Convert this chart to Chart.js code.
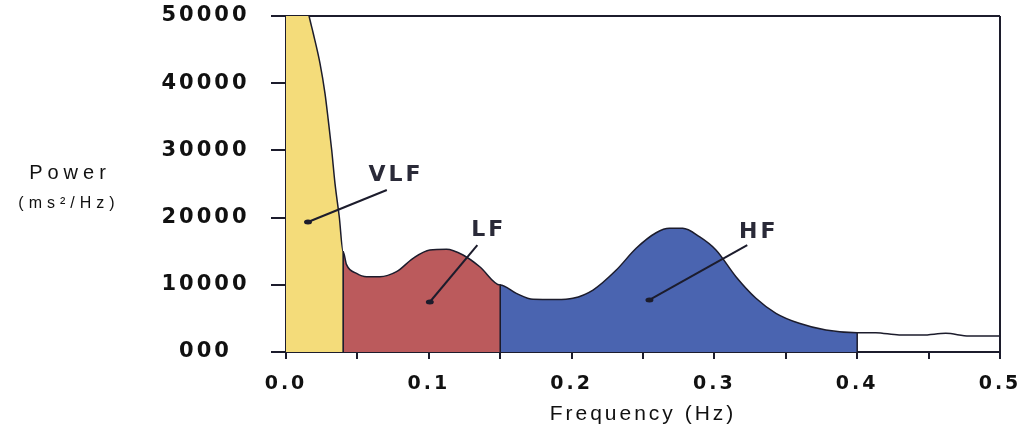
<!DOCTYPE html>
<html>
<head>
<meta charset="utf-8">
<script src="https://cdn.jsdelivr.net/npm/chart.js@4.4.1/dist/chart.umd.min.js"></script>
<style>
  body { margin: 0; background: #fff; }
  #wrap { width: 1024px; height: 435px; }
</style>
</head>
<body>
<div id="wrap"><canvas id="hrvChart"></canvas></div>
<script>
// Power spectrum, one pair of arrays per band (Hz, ms²/Hz)
const vlfFreq = [0, 0.008, 0.0168, 0.0191, 0.0238, 0.0273, 0.0296, 0.032, 0.0343, 0.0373, 0.04];
const vlfPower = [67000, 58000, 49400, 47400, 42960, 38500, 34500, 30060, 25100, 20130, 14900];

const lfFreq = [0.04, 0.0424, 0.0494, 0.0564, 0.0657, 0.0774, 0.089, 0.1007, 0.1124, 0.124, 0.1357, 0.15];
const lfPower = [14900, 13000, 11700, 11200, 11200, 11950, 13940, 15180, 15280, 14430, 12690, 9970];

const hfFreq = [0.15, 0.1613, 0.173, 0.1893, 0.2009, 0.215, 0.2313, 0.2452, 0.2592, 0.2685, 0.2778, 0.2895, 0.3011, 0.3151, 0.3291, 0.3431, 0.3594, 0.3781, 0.4];
const hfPower = [9970, 8730, 7840, 7800, 7990, 9225, 12200, 15430, 17750, 18400, 18400, 17160, 15180, 11200, 7990, 5760, 4270, 3270, 2870];

const tailFreq = [0.4, 0.413, 0.4294, 0.4457, 0.462, 0.4783, 0.5];
const tailPower = [2870, 2870, 2530, 2530, 2780, 2380, 2380];

const xTickLabels = ["0.0", "0.1", "0.2", "0.3", "0.4", "0.5"];
const yTickLabels = ["000", "10000", "20000", "30000", "40000", "50000"];

// band labels with their pointer lines, in data units
const bandNotes = [
  { text: "VLF", x: 0.076, y: 26300, from: [0.0706, 24100], to: [0.0154, 19350] },
  { text: "LF", x: 0.141, y: 18150, from: [0.134, 15920], to: [0.1007, 7440] },
  { text: "HF", x: 0.33, y: 17860, from: [0.323, 15920], to: [0.2545, 7740] },
];

const outline = "#1c1c2c";

function toPoints(xs, ys) {
  return xs.map((x, i) => ({ x, y: ys[i] }));
}

// close a band down to the axis so its side edges get drawn too
function bandPoints(xs, ys) {
  const pts = toPoints(xs, ys);
  if (xs[0] > 0) pts.unshift({ x: xs[0], y: 0 });
  pts.push({ x: xs[xs.length - 1], y: 0 });
  return pts;
}

function band(label, xs, ys, color) {
  return {
    label,
    data: bandPoints(xs, ys),
    backgroundColor: color,
    borderColor: outline,
    borderWidth: 1.5,
    fill: "origin",
    pointRadius: 0,
    cubicInterpolationMode: "monotone",
  };
}

const extrasPlugin = {
  id: "extras",
  beforeDraw(chart) {
    chart.ctx.letterSpacing = "3px";
  },
  afterDraw(chart) {
    const { ctx, scales } = chart;
    const sx = scales.x;
    const sy = scales.y;
    ctx.save();

    // pointers and band names
    bandNotes.forEach((n) => {
      const x1 = sx.getPixelForValue(n.from[0]);
      const y1 = sy.getPixelForValue(n.from[1]);
      const x2 = sx.getPixelForValue(n.to[0]);
      const y2 = sy.getPixelForValue(n.to[1]);
      ctx.strokeStyle = outline;
      ctx.lineWidth = 2;
      ctx.beginPath();
      ctx.moveTo(x1, y1);
      ctx.lineTo(x2, y2);
      ctx.stroke();
      ctx.fillStyle = outline;
      ctx.beginPath();
      ctx.ellipse(x2, y2, 4, 2.5, 0, 0, Math.PI * 2);
      ctx.fill();

      ctx.font = "bold 22px 'DejaVu Sans'";
      ctx.fillStyle = "#2a2a38";
      ctx.textAlign = "center";
      ctx.textBaseline = "middle";
      ctx.fillText(n.text, sx.getPixelForValue(n.x) + 1.5, sy.getPixelForValue(n.y));
    });

    // horizontal y axis title
    ctx.fillStyle = "#111";
    ctx.textAlign = "center";
    ctx.textBaseline = "middle";
    ctx.font = "20px 'Liberation Sans'";
    ctx.letterSpacing = "5px";
    ctx.fillText("Power", 70, 173);
    ctx.font = "16px 'Liberation Sans'";
    ctx.letterSpacing = "5px";
    ctx.fillText("(ms²/Hz)", 69, 204);

    ctx.restore();
    ctx.letterSpacing = "0px";
  },
};

const ctx = document.getElementById("hrvChart").getContext("2d");
new Chart(ctx, {
  type: "line",
  data: {
    datasets: [
      band("VLF", vlfFreq, vlfPower, "#f4dc7a"),
      band("LF", lfFreq, lfPower, "#bb5a5c"),
      band("HF", hfFreq, hfPower, "#4a64b0"),
      {
        label: "above HF",
        data: toPoints(tailFreq, tailPower),
        borderColor: outline,
        borderWidth: 1.5,
        fill: false,
        pointRadius: 0,
        cubicInterpolationMode: "monotone",
      },
    ],
  },
  options: {
    responsive: true,
    maintainAspectRatio: false,
    animation: false,
    layout: { padding: { left: 0, right: 24, top: 16, bottom: 0 } },
    plugins: {
      legend: { display: false },
      tooltip: { enabled: false },
    },
    scales: {
      x: {
        type: "linear",
        min: 0,
        max: 0.5,
        z: 1,
        afterFit(scale) {
          scale.height = 83;
          scale.paddingLeft = 0;
          scale.paddingRight = 0;
        },
        ticks: {
          stepSize: 0.05,
          autoSkip: false,
          maxRotation: 0,
          padding: 14,
          color: "#111",
          font: { family: "'DejaVu Sans'", size: 19, weight: "bold" },
          callback: (value, index) => (index % 2 === 0 ? xTickLabels[index / 2] : ""),
        },
        grid: {
          color: (c) => (c.tick && Math.abs(c.tick.value - 0.5) < 1e-6 ? outline : "transparent"),
          tickColor: outline,
          tickLength: 7,
          lineWidth: 2,
        },
        border: { display: true, color: outline, width: 2 },
        title: {
          display: true,
          text: "Frequency (Hz)",
          color: "#111",
          font: { family: "'Liberation Sans'", size: 21 },
          padding: { top: 0, bottom: 8 },
        },
      },
      y: {
        min: 0,
        max: 50000,
        z: 1,
        afterFit(scale) {
          scale.width = 286;
          scale.paddingTop = 0;
          scale.paddingBottom = 0;
        },
        ticks: {
          stepSize: 10000,
          padding: 29,
          crossAlign: "center",
          color: "#111",
          font: { family: "'DejaVu Sans'", size: 21, weight: "bold" },
          callback: (value, index) => yTickLabels[index],
        },
        grid: {
          color: (c) => (c.tick && c.tick.value === 50000 ? outline : "transparent"),
          tickColor: outline,
          tickLength: 15,
          lineWidth: 2,
        },
        border: { display: true, color: outline, width: 2 },
      },
    },
  },
  plugins: [extrasPlugin],
});
</script>
</body>
</html>
